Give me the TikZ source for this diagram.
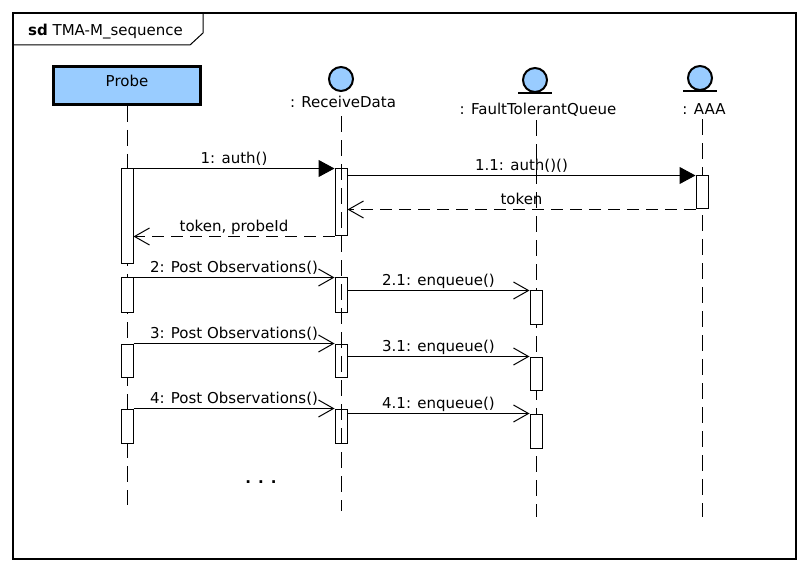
\documentclass[tikz,border=0pt]{standalone}
\usepackage{fontspec}
\setmainfont{DejaVu Sans}
\usetikzlibrary{arrows.meta}
\definecolor{objblue}{RGB}{153,204,255}
\begin{document}
\begin{tikzpicture}[x=1pt,y=-1pt,
  every node/.style={font=\fontsize{15}{18}\selectfont, inner sep=0pt},
  frameline/.style={line width=1.5pt},
  tabline/.style={line width=1pt},
  actorbox/.style={draw, line width=3pt, fill=objblue, minimum width=147pt, minimum height=38pt},
  objcirc/.style={draw, circle, line width=2pt, fill=objblue, minimum size=24pt},
  entitybar/.style={line width=2pt},
  headlabel/.style={anchor=base},
  lifeline/.style={line width=1pt, dash pattern=on 16pt off 8pt},
  actbox/.style={draw, fill=white, line width=1pt, minimum width=12pt},
  actopen/.style={draw, line width=1pt, minimum width=12pt},
  syncmsg/.style={line width=1pt, -{Triangle[length=16pt,width=17pt]}},
  asyncmsg/.style={line width=1pt, -{Straight Barb[length=15pt,width=17pt]}},
  returnmsg/.style={line width=1pt, dash pattern=on 12pt off 7pt, -{Straight Barb[length=15pt,width=17pt]}},
  msglabel/.style={anchor=base, yshift=5pt}
]
\useasboundingbox (0,0) rectangle (809,572);
% frame
\draw[frameline] (13,13) rectangle (796,559);
\draw[tabline] (13,45) -- (190,45) -- (203,33) -- (203,13);
\node[anchor=base west] (title) at (28,36) {\textbf{sd} TMA-M\_sequence};

% heads
\node[actorbox] (probe) at (127,85.5) {};
\node[anchor=base] (probel) at (127,87) {Probe};
\node[objcirc] (rdc) at (341,79) {};
\node[headlabel] (rdl) at (343,108) {: ReceiveData};
\node[objcirc] (ftqc) at (535,80) {};
\node[headlabel] (ftql) at (538,115) {: FaultTolerantQueue};
\node[objcirc] (aaac) at (700,78) {};
\node[headlabel] (aaal) at (704,115) {: AAA};
\draw[entitybar] ([xshift=-17pt]ftqc.south) -- ([xshift=17pt]ftqc.south);
\draw[entitybar] ([xshift=-17pt]aaac.south) -- ([xshift=17pt]aaac.south);

% lifeline ends
\coordinate (pend) at (127,505);
\coordinate (rdend) at (341,511);
\coordinate (ftqend) at (536,517);
\coordinate (aaaend) at (702,517);

\draw[lifeline] (probe.south -| pend) -- (pend);
\draw[lifeline] ([yshift=-8pt]rdl.south -| rdend) -- (rdend);
\draw[lifeline] ([yshift=-3pt]ftql.south -| ftqend) -- (ftqend);
\draw[lifeline] ([yshift=-4pt]aaal.south -| aaaend) -- (aaaend);

% activations
\node[actbox, minimum height=95pt] (p1) at (127,216.5) {};
\node[actopen, minimum height=67pt] (rd1) at (341,202.5) {};
\node[actbox, minimum height=33pt] (aaa1) at (702,192.5) {};

\node[actbox, minimum height=34pt] (p2) at (127,295) {};
\node[actopen, minimum height=34pt] (rd2) at (341,295) {};
\node[actbox, minimum height=33pt] (ftq2) at (536,307.5) {};

\node[actbox, minimum height=33pt] (p3) at (127,360.5) {};
\node[actopen, minimum height=33pt] (rd3) at (341,360.5) {};
\node[actbox, minimum height=33pt] (ftq3) at (536,373.5) {};

\node[actbox, minimum height=34pt] (p4) at (127,426) {};
\node[actopen, minimum height=34pt] (rd4) at (341,426) {};
\node[actbox, minimum height=34pt] (ftq4) at (536,431) {};

% messages
\draw[syncmsg] (p1.north east) -- (rd1.north west) node[msglabel, midway] {1: auth()};
\draw[syncmsg] (rd1.east |- aaa1.north) -- (aaa1.north west) node[msglabel, midway] {1.1: auth()()};
\draw[returnmsg] (aaa1.south west) -- (rd1.east |- aaa1.south) node[msglabel, midway] {token};
\draw[returnmsg] (rd1.south west) -- (p1.east |- rd1.south) node[msglabel, midway] {token, probeId};

\draw[asyncmsg] (p2.north east) -- (rd2.north west) node[msglabel, midway] {2: Post Observations()};
\draw[asyncmsg] (rd2.east |- ftq2.north) -- (ftq2.north west) node[msglabel, midway] {2.1: enqueue()};
\draw[asyncmsg] (p3.north east) -- (rd3.north west) node[msglabel, midway] {3: Post Observations()};
\draw[asyncmsg] (rd3.east |- ftq3.north) -- (ftq3.north west) node[msglabel, midway] {3.1: enqueue()};
\draw[asyncmsg] (p4.north east) -- (rd4.north west) node[msglabel, midway] {4: Post Observations()};
\draw[asyncmsg] (rd4.east |- ftq4.north) -- (ftq4.north west) node[msglabel, midway] {4.1: enqueue()};

\node[anchor=base, font=\fontsize{15}{18}\selectfont\bfseries] (dots) at (261,483) {. . .};
\end{tikzpicture}
\end{document}
